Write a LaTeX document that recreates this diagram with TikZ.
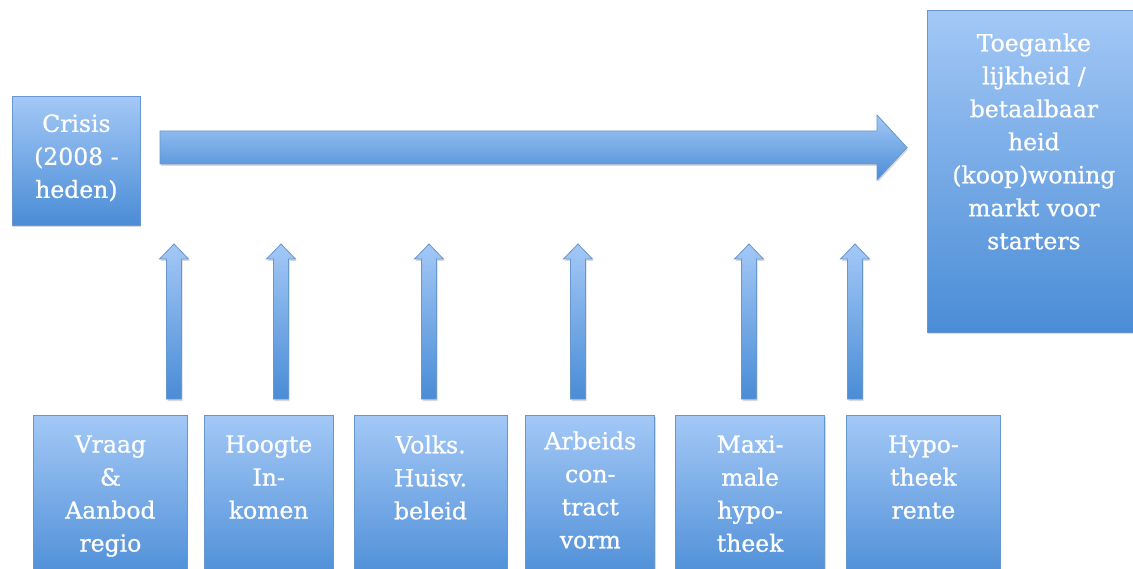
\documentclass[tikz,border=0pt]{standalone}
\usepackage{fontspec}
\setmainfont{DejaVu Serif}
\usetikzlibrary{positioning,shadows,calc}
\definecolor{boxtop}{RGB}{163,200,246}
\definecolor{boxbot}{RGB}{74,140,214}
\definecolor{boxline}{RGB}{104,150,206}
\tikzset{main node/.style={rectangle,draw=boxline,line width=0.8pt,top color=boxtop,bottom color=boxbot,
            inner sep=0pt,text=white,font=\fontsize{23.5}{33}\selectfont\addfontfeature{FakeBold=0.8},
            drop shadow={shadow xshift=1pt,shadow yshift=-2pt,opacity=0.3}},
         block arrow/.style={draw=boxline,line width=0.8pt,top color=boxtop,bottom color=boxbot,
            drop shadow={shadow xshift=1pt,shadow yshift=-2pt,opacity=0.3}},
            }
\newcommand\boxtext[4]{\parbox[t][#2pt][t]{#1pt}{\centering\vspace*{#3pt}#4}}

\begin{document}
\begin{tikzpicture}[x=1pt,y=-1pt,node distance=16pt]
\useasboundingbox (0,0) rectangle (1133,569);
\clip (0,0) rectangle (1133,569);
 \node[main node,anchor=north west] (cri) at (12,96) {\boxtext{128}{129}{18}{Crisis\\(2008 -\\heden)}};
 \node[main node,anchor=north west] (toe) at (927,10) {\boxtext{213}{322}{23}{Toeganke\\lijkheid /\\betaalbaar\\heid\\(koop)woning\\markt voor\\starters}};
    \node[main node,anchor=north west] (vra) at (33,415) {\boxtext{154}{170}{20}{Vraag\\\&\\Aanbod\\regio}};
    \node[main node] (hoo)[right=16pt of vra] {\boxtext{129}{170}{20}{Hoogte\\In-\\komen}};
    \node[main node] (vol)[right=20pt of hoo] {\boxtext{153}{170}{20}{Volks.\\Huisv.\\beleid}};
    \node[main node] (arb)[right=18pt of vol] {\boxtext{129}{170}{16}{Arbeids\\con-\\tract\\vorm}};
    \node[main node] (max)[right=20pt of arb] {\boxtext{149}{170}{20}{Maxi-\\male\\hypo-\\theek}};
    \node[main node] (hyp)[right=21pt of max] {\boxtext{154}{170}{20}{Hypo-\\theek\\rente}};

    % big arrow from crisis to the market
    \coordinate (hs) at (160,147.5);
    \coordinate (ht) at (907,147.5);
    \path[block arrow]
        ($(hs)+(0,-16.5)$) -- ($(ht)+(-30,-16.5)$) -- ($(ht)+(-30,-32.5)$) -- (ht)
        -- ($(ht)+(-30,32.5)$) -- ($(ht)+(-30,16.5)$) -- ($(hs)+(0,16.5)$) -- cycle;

    % factor arrows
    \foreach \x in {174,281,429,578,749,855}
    \path[block arrow]
        (\x-7.5,399) -- (\x-7.5,259) -- (\x-14.5,259) -- (\x,244)
        -- (\x+14.5,259) -- (\x+7.5,259) -- (\x+7.5,399) -- cycle;
\end{tikzpicture}
\end{document}
